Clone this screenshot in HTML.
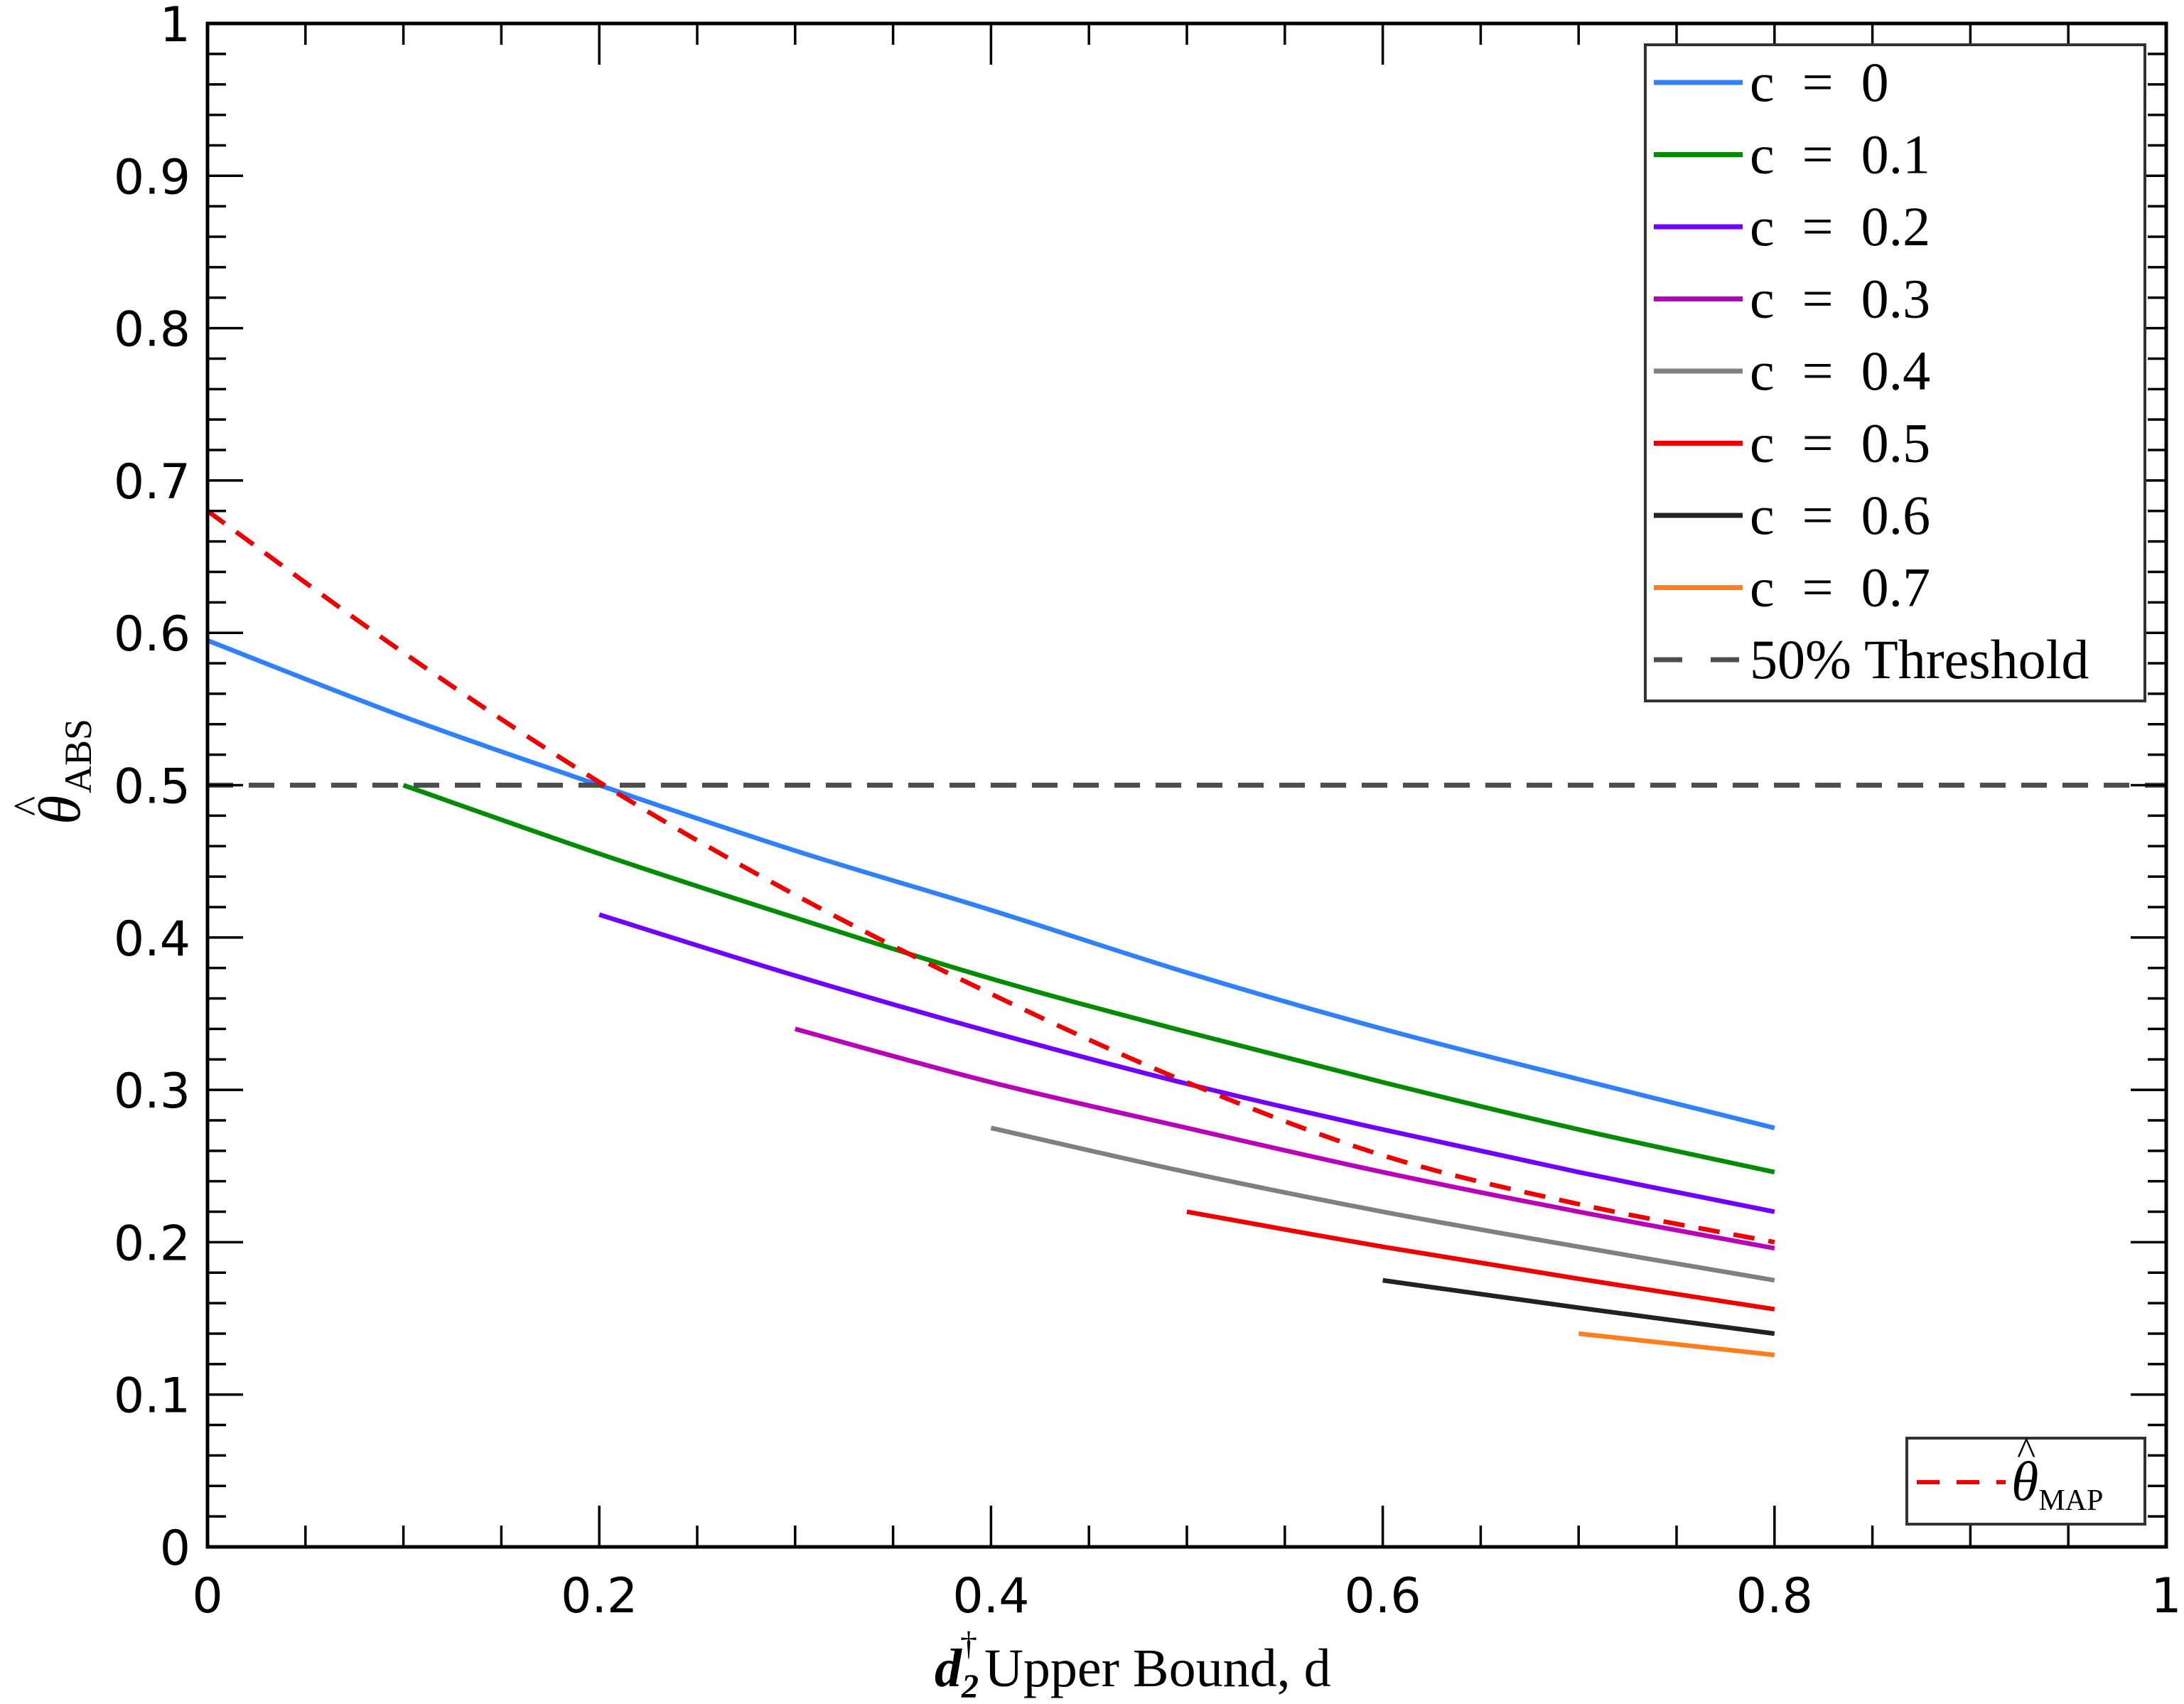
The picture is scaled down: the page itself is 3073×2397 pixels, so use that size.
<!DOCTYPE html>
<html><head><meta charset="utf-8"><style>
html,body{margin:0;padding:0;background:#fff}
svg{display:block}
.tk{font-family:"DejaVu Sans","Liberation Sans",sans-serif;font-size:68px;fill:#000}
.lg{font-family:"Liberation Serif","DejaVu Serif",serif;font-size:78px;fill:#000}
</style></head><body>
<svg id="chart" width="3073" height="2397" viewBox="0 0 3073 2397" xmlns="http://www.w3.org/2000/svg">
<g id="series"></g>
<g id="axes"></g>
<g id="legend1"></g>
<g id="legend2"></g>
<g>
<text x="1315" y="2372" class="lg" style="font-size:76px"><tspan font-weight="bold" font-style="italic">d</tspan><tspan font-weight="bold" font-style="italic" font-size="48" dy="16">2</tspan><tspan font-size="48" dx="-26" dy="-60">†</tspan><tspan dy="44" dx="10">Upper Bound, d</tspan></text>
</g>
<g transform="translate(112,1100) rotate(-90)">
<text x="-60" y="0" class="lg" style="font-size:84px" font-style="italic">θ</text>
<text x="-48" y="-52" class="lg" style="font-size:60px">^</text>
<text x="-16" y="16" class="lg" style="font-size:54px">ABS</text>
</g>
</svg>
<script>
const cLabels = ["c = 0","c = 0.1","c = 0.2","c = 0.3","c = 0.4","c = 0.5","c = 0.6","c = 0.7"];
const cColors = ["#3081ff","#008c00","#7000ff","#b800b8","#808080","#ee0000","#222222","#ff7f1e"];
const xsAll = [0,0.1,0.2,0.3,0.4,0.5,0.6,0.7,0.8];
const c0 = [0.595,0.545,0.500,0.457,0.418,0.377,0.340,0.307,0.275];
const c1 = [0.500,0.455,0.413,0.373,0.338,0.305,0.274,0.246];
const c2 = [0.415,0.375,0.338,0.304,0.274,0.246,0.220];
const c3 = [0.340,0.305,0.275,0.246,0.220,0.196];
const c4 = [0.275,0.246,0.220,0.197,0.175];
const c5 = [0.220,0.197,0.176,0.156];
const c6 = [0.175,0.157,0.140];
const c7 = [0.140,0.126];
const mapVals = [0.680,0.587,0.502,0.428,0.363,0.305,0.257,0.225,0.200];
const threshold = 0.5;
const xTicks = [0,0.2,0.4,0.6,0.8,1];
const xTickLabels = ["0","0.2","0.4","0.6","0.8","1"];
const yTicks = [0,0.1,0.2,0.3,0.4,0.5,0.6,0.7,0.8,0.9,1];
const yTickLabels = ["0","0.1","0.2","0.3","0.4","0.5","0.6","0.7","0.8","0.9","1"];

const L=292,R=3048,T=33,B=2176;
const X=v=>L+v*(R-L);
const Y=v=>B-v*(B-T);
const NS="http://www.w3.org/2000/svg";
function mk(tag,attrs,parent){const e=document.createElementNS(NS,tag);for(const k in attrs)e.setAttribute(k,attrs[k]);parent.appendChild(e);return e;}
function smooth(pts){
  if(pts.length<3) return 'M'+pts.map(p=>p[0]+','+p[1]).join(' L');
  let d='M'+pts[0][0]+','+pts[0][1];
  for(let i=0;i<pts.length-1;i++){
    const p0=pts[Math.max(0,i-1)],p1=pts[i],p2=pts[i+1],p3=pts[Math.min(pts.length-1,i+2)];
    const c1x=p1[0]+(p2[0]-p0[0])/6,c1y=p1[1]+(p2[1]-p0[1])/6;
    const c2x=p2[0]-(p3[0]-p1[0])/6,c2y=p2[1]-(p3[1]-p1[1])/6;
    d+=' C'+c1x+','+c1y+' '+c2x+','+c2y+' '+p2[0]+','+p2[1];
  }
  return d;
}

const series=document.getElementById('series');
const all=[c0,c1,c2,c3,c4,c5,c6,c7];
all.forEach((vals,i)=>{
  const xs=xsAll.slice(xsAll.length-vals.length);
  const p=mk('path',{d:smooth(vals.map((v,j)=>[X(xs[j]),Y(v)])),fill:'none',stroke:cColors[i],'stroke-width':6.5},series);
  
  
});
const th=mk('line',{x1:L,x2:R,y1:Y(threshold),y2:Y(threshold),stroke:'#4d4d4d','stroke-width':7,'stroke-dasharray':'36 22'},series);


const mp=mk('path',{d:smooth(mapVals.map((v,j)=>[X(xsAll[j]),Y(v)])),fill:'none',stroke:'#ee0000','stroke-width':6.5,'stroke-dasharray':'30 20'},series);



const ax=document.getElementById('axes');
const fr=mk('rect',{x:L,y:T,width:R-L,height:B-T,fill:'none',stroke:'#000','stroke-width':5},ax);


for(let i=0;i<=20;i++){const v=i*0.05;const len=(i%4===0)?58:30;
  mk('line',{x1:X(v),x2:X(v),y1:B,y2:B-len,stroke:'#000','stroke-width':3.5},ax);
  mk('line',{x1:X(v),x2:X(v),y1:T,y2:T+len,stroke:'#000','stroke-width':3.5},ax);}
for(let i=0;i<=50;i++){const v=i*0.02;const len=(i%5===0)?50:26;
  mk('line',{y1:Y(v),y2:Y(v),x1:L,x2:L+len,stroke:'#000','stroke-width':3.5},ax);
  mk('line',{y1:Y(v),y2:Y(v),x1:R,x2:R-len,stroke:'#000','stroke-width':3.5},ax);}
xTicks.forEach((v,i)=>{const t=mk('text',{x:X(v),y:B+92,'text-anchor':'middle',class:'tk'},ax);t.textContent=xTickLabels[i];
  
  });
yTicks.forEach((v,i)=>{const t=mk('text',{x:L-24,y:Y(v)+25,'text-anchor':'end',class:'tk'},ax);t.textContent=yTickLabels[i];
  
  });

const lg=document.getElementById('legend1');
mk('rect',{x:2315,y:63,width:703,height:923,fill:'#fff',stroke:'#333','stroke-width':4},lg);
cLabels.concat(["50% Threshold"]).forEach((lab,i)=>{const y=116+i*101.5;
  const isTh=i===8;
  const ln=mk('line',{x1:2327,x2:2452,y1:y,y2:y,stroke:isTh?'#4d4d4d':cColors[i],'stroke-width':7,'stroke-dasharray':isTh?'40 40':'none'},lg);
  
  
  const t=mk('text',{x:2462,y:y+26,class:'lg','xml:space':'preserve'},lg);
  t.textContent=lab.replace(' = ','\u2002=\u2002');
  
  });

const lg2=document.getElementById('legend2');
mk('rect',{x:2683,y:2023,width:335,height:121,fill:'#fff',stroke:'#333','stroke-width':4},lg2);
mk('line',{x1:2697,x2:2822,y1:2085,y2:2085,stroke:'#ee0000','stroke-width':6,'stroke-dasharray':'32 24'},lg2);
const t2=mk('text',{x:2830,y:2110,class:'lg'},lg2);
t2.innerHTML='<tspan font-style="italic">θ</tspan><tspan font-size="42" dy="14">MAP</tspan>';


const h2=mk('text',{x:2838,y:2060,class:'lg',style:'font-size:56px'},lg2);
h2.textContent='^';


</script>
</body></html>
